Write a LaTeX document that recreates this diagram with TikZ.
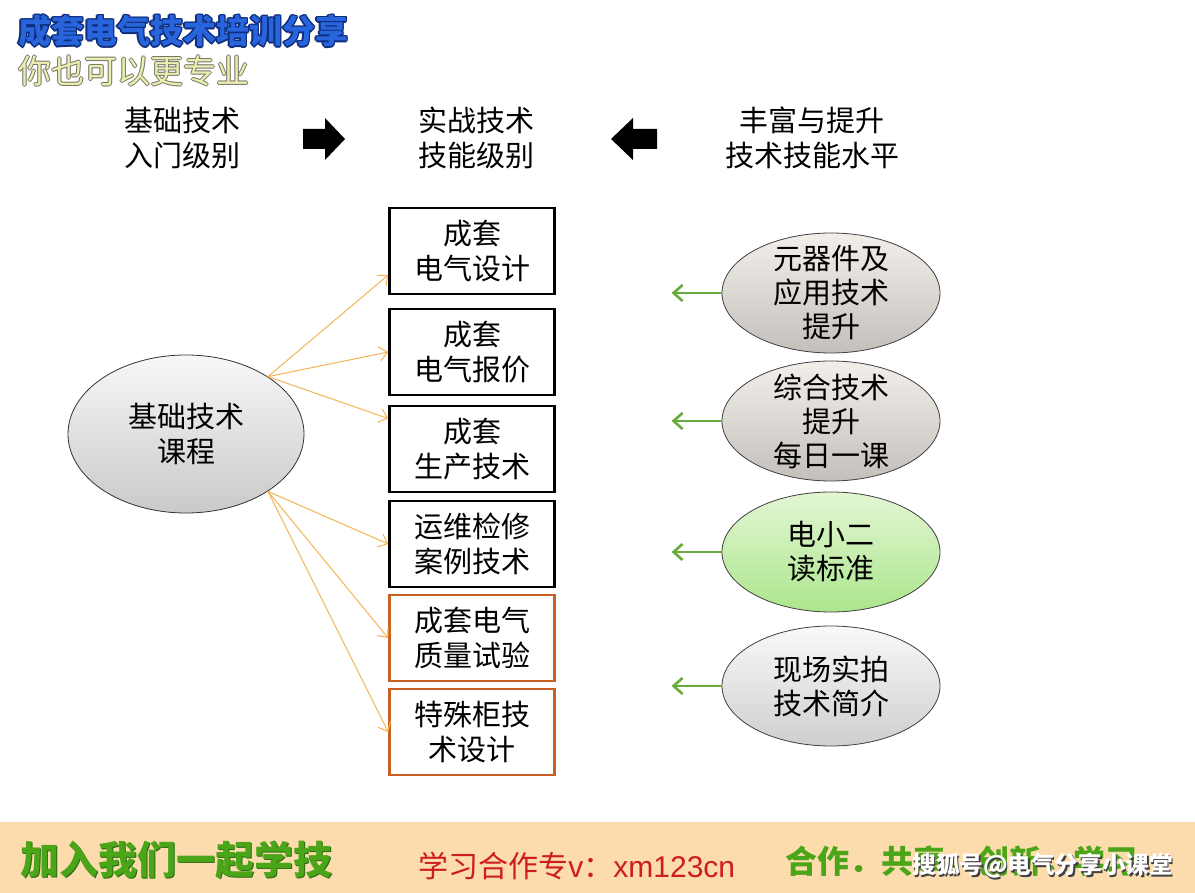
\documentclass[tikz,border=0pt]{standalone}
\usepackage{fontspec}
\setmainfont{Noto Sans CJK SC}
\newfontfamily\latinsans{Liberation Sans}
\usetikzlibrary{arrows.meta,shapes.geometric}

\definecolor{titleblue}{RGB}{40,100,220}
\definecolor{titleedge}{RGB}{15,45,125}
\definecolor{subfill}{RGB}{236,238,175}
\definecolor{subedge}{RGB}{115,115,105}
\definecolor{linkorange}{RGB}{245,180,85}
\definecolor{linkgreen}{RGB}{105,170,60}
\definecolor{boxorange}{RGB}{200,95,35}
\definecolor{bannerbg}{RGB}{252,219,172}
\definecolor{bannergreen}{RGB}{75,165,25}
\definecolor{bannerdark}{RGB}{40,110,15}
\definecolor{bannerred}{RGB}{205,30,30}

\tikzset{
  every node/.style={font=\fontsize{14.5}{17.5}\selectfont, align=center},
  flat/.style={anchor=west, inner sep=0pt},
  topic/.style={draw=black, line width=1.3pt, minimum width=82.5pt, minimum height=43pt, inner sep=0pt},
  topicx/.style={topic, draw=boxorange},
  bubble/.style={ellipse, draw=black!75, line width=0.4pt, inner xsep=0pt, inner ysep=-12pt,
    minimum width=109pt, minimum height=60pt, font=\fontsize{14.5}{17}\selectfont},
  feed/.style={-{Straight Barb[length=4pt,width=7pt]}, linkorange, line width=0.5pt},
  lift/.style={-{Straight Barb[length=4.5pt,width=8pt]}, linkgreen, line width=1.3pt},
}

\begin{document}
\begin{tikzpicture}[x=0.5pt, y=-0.5pt]
\fill[white] (0,0) rectangle (1195,893);
\useasboundingbox (0,0) rectangle (1195,893);

% Titulo
\foreach \dx/\dy [count=\k] in {-1.5/0,1.5/0,0/-1.5,0/1.5,-1/-1,1/1,-1/1,1/-1}
  \node[flat, text=titleedge, font=\fontsize{16.5}{18}\bfseries] (titlerim\k) at (18+\dx,31+\dy) {成套电气技术培训分享};
\node[flat, text=titleblue, font=\fontsize{16.5}{18}\bfseries] (title) at (18,31) {成套电气技术培训分享};
\foreach \dx/\dy [count=\k] in {-1/0,1/0,0/-1,0/1}
  \node[flat, text=subedge, font=\fontsize{16.5}{18}\selectfont] (subrim\k) at (18+\dx,71+\dy) {你也可以更专业};
\node[flat, text=subfill, font=\fontsize{16.5}{18}\selectfont] (subtitle) at (18,71) {你也可以更专业};

% Cabeceras
\node (hdrbasic) at (182,138) {基础技术\\入门级别};
\node (hdrpractice) at (476,138) {实战技术\\技能级别};
\node (hdradvance) at (812,138) {丰富与提升\\技术技能水平};
\fill (303,129) -- (325,129) -- (325,118) -- (345,139) -- (325,160) -- (325,149) -- (303,149) -- cycle;
\fill (657,129) -- (633,129) -- (633,118) -- (611,139) -- (633,160) -- (633,149) -- (657,149) -- cycle;

% Curso base
\node[ellipse, draw=black!80, line width=0.4pt, top color=gray!6, bottom color=gray!42,
  minimum width=118pt, minimum height=79pt] (course) at (186,434) {基础技术\\课程};

% Temas
\node[topic] (box1) at (472,251) {成套\\电气设计};
\node[topic] (box2) at (472,352) {成套\\电气报价};
\node[topic] (box3) at (472,449) {成套\\生产技术};
\node[topic] (box4) at (472,544) {运维检修\\案例技术};
\node[topicx] (box5) at (472,638) {成套电气\\质量试验};
\node[topicx] (box6) at (472,732) {特殊柜技\\术设计};

\draw[feed] (course.35) -- (box1.196);
\draw[feed] (course.35) -- (box2.west);
\draw[feed] (course.35) -- (box3.160);
\draw[feed] (course.-35) -- (box4.west);
\draw[feed] (course.-35) -- (box5.west);
\draw[feed] (course.-35) -- (box6.west);

% Mejora
\node[bubble, top color={rgb,255:red,242;green,239;blue,235}, bottom color={rgb,255:red,196;green,191;blue,186}] (rise1) at (831,293) {元器件及\\应用技术\\提升};
\node[bubble, top color={rgb,255:red,242;green,239;blue,235}, bottom color={rgb,255:red,196;green,191;blue,186}] (rise2) at (831,421) {综合技术\\提升\\每日一课};
\node[bubble, top color={rgb,255:red,226;green,246;blue,212}, bottom color={rgb,255:red,172;green,230;blue,140}] (rise3) at (831,552) {电小二\\读标准};
\node[bubble, top color=gray!5, bottom color=gray!38] (rise4) at (831,686) {现场实拍\\技术简介};
\foreach \i in {1,...,4}
  \draw[lift] (rise\i.west) -- ++(-50,0);

% Banda inferior
\fill[bannerbg] (0,822) rectangle (1195,893);
\node[flat, text=bannerdark, font=\fontsize{19.5}{20}\bfseries] (joinrim) at (21,861) {加入我们一起学技};
\node[flat, text=bannergreen, font=\fontsize{19.5}{20}\bfseries] (join) at (20,860) {加入我们一起学技};
\node[flat, text=bannerred, font=\fontsize{15}{16}\selectfont] (contact) at (418,866) {学习合作专{\latinsans v}：{\latinsans xm123cn}};
\node[flat, text=bannergreen, font=\fontsize{16}{18}\bfseries] (motto) at (785,861) {合作．共享．创新．学习};
\node[flat, text=black!75, font=\fontsize{11.8}{14}\bfseries] (markshade) at (913.5,867.5) {搜狐号@电气分享小课堂};
\node[flat, text=white, font=\fontsize{11.8}{14}\bfseries] (mark) at (912,866) {搜狐号@电气分享小课堂};
\end{tikzpicture}
\end{document}
